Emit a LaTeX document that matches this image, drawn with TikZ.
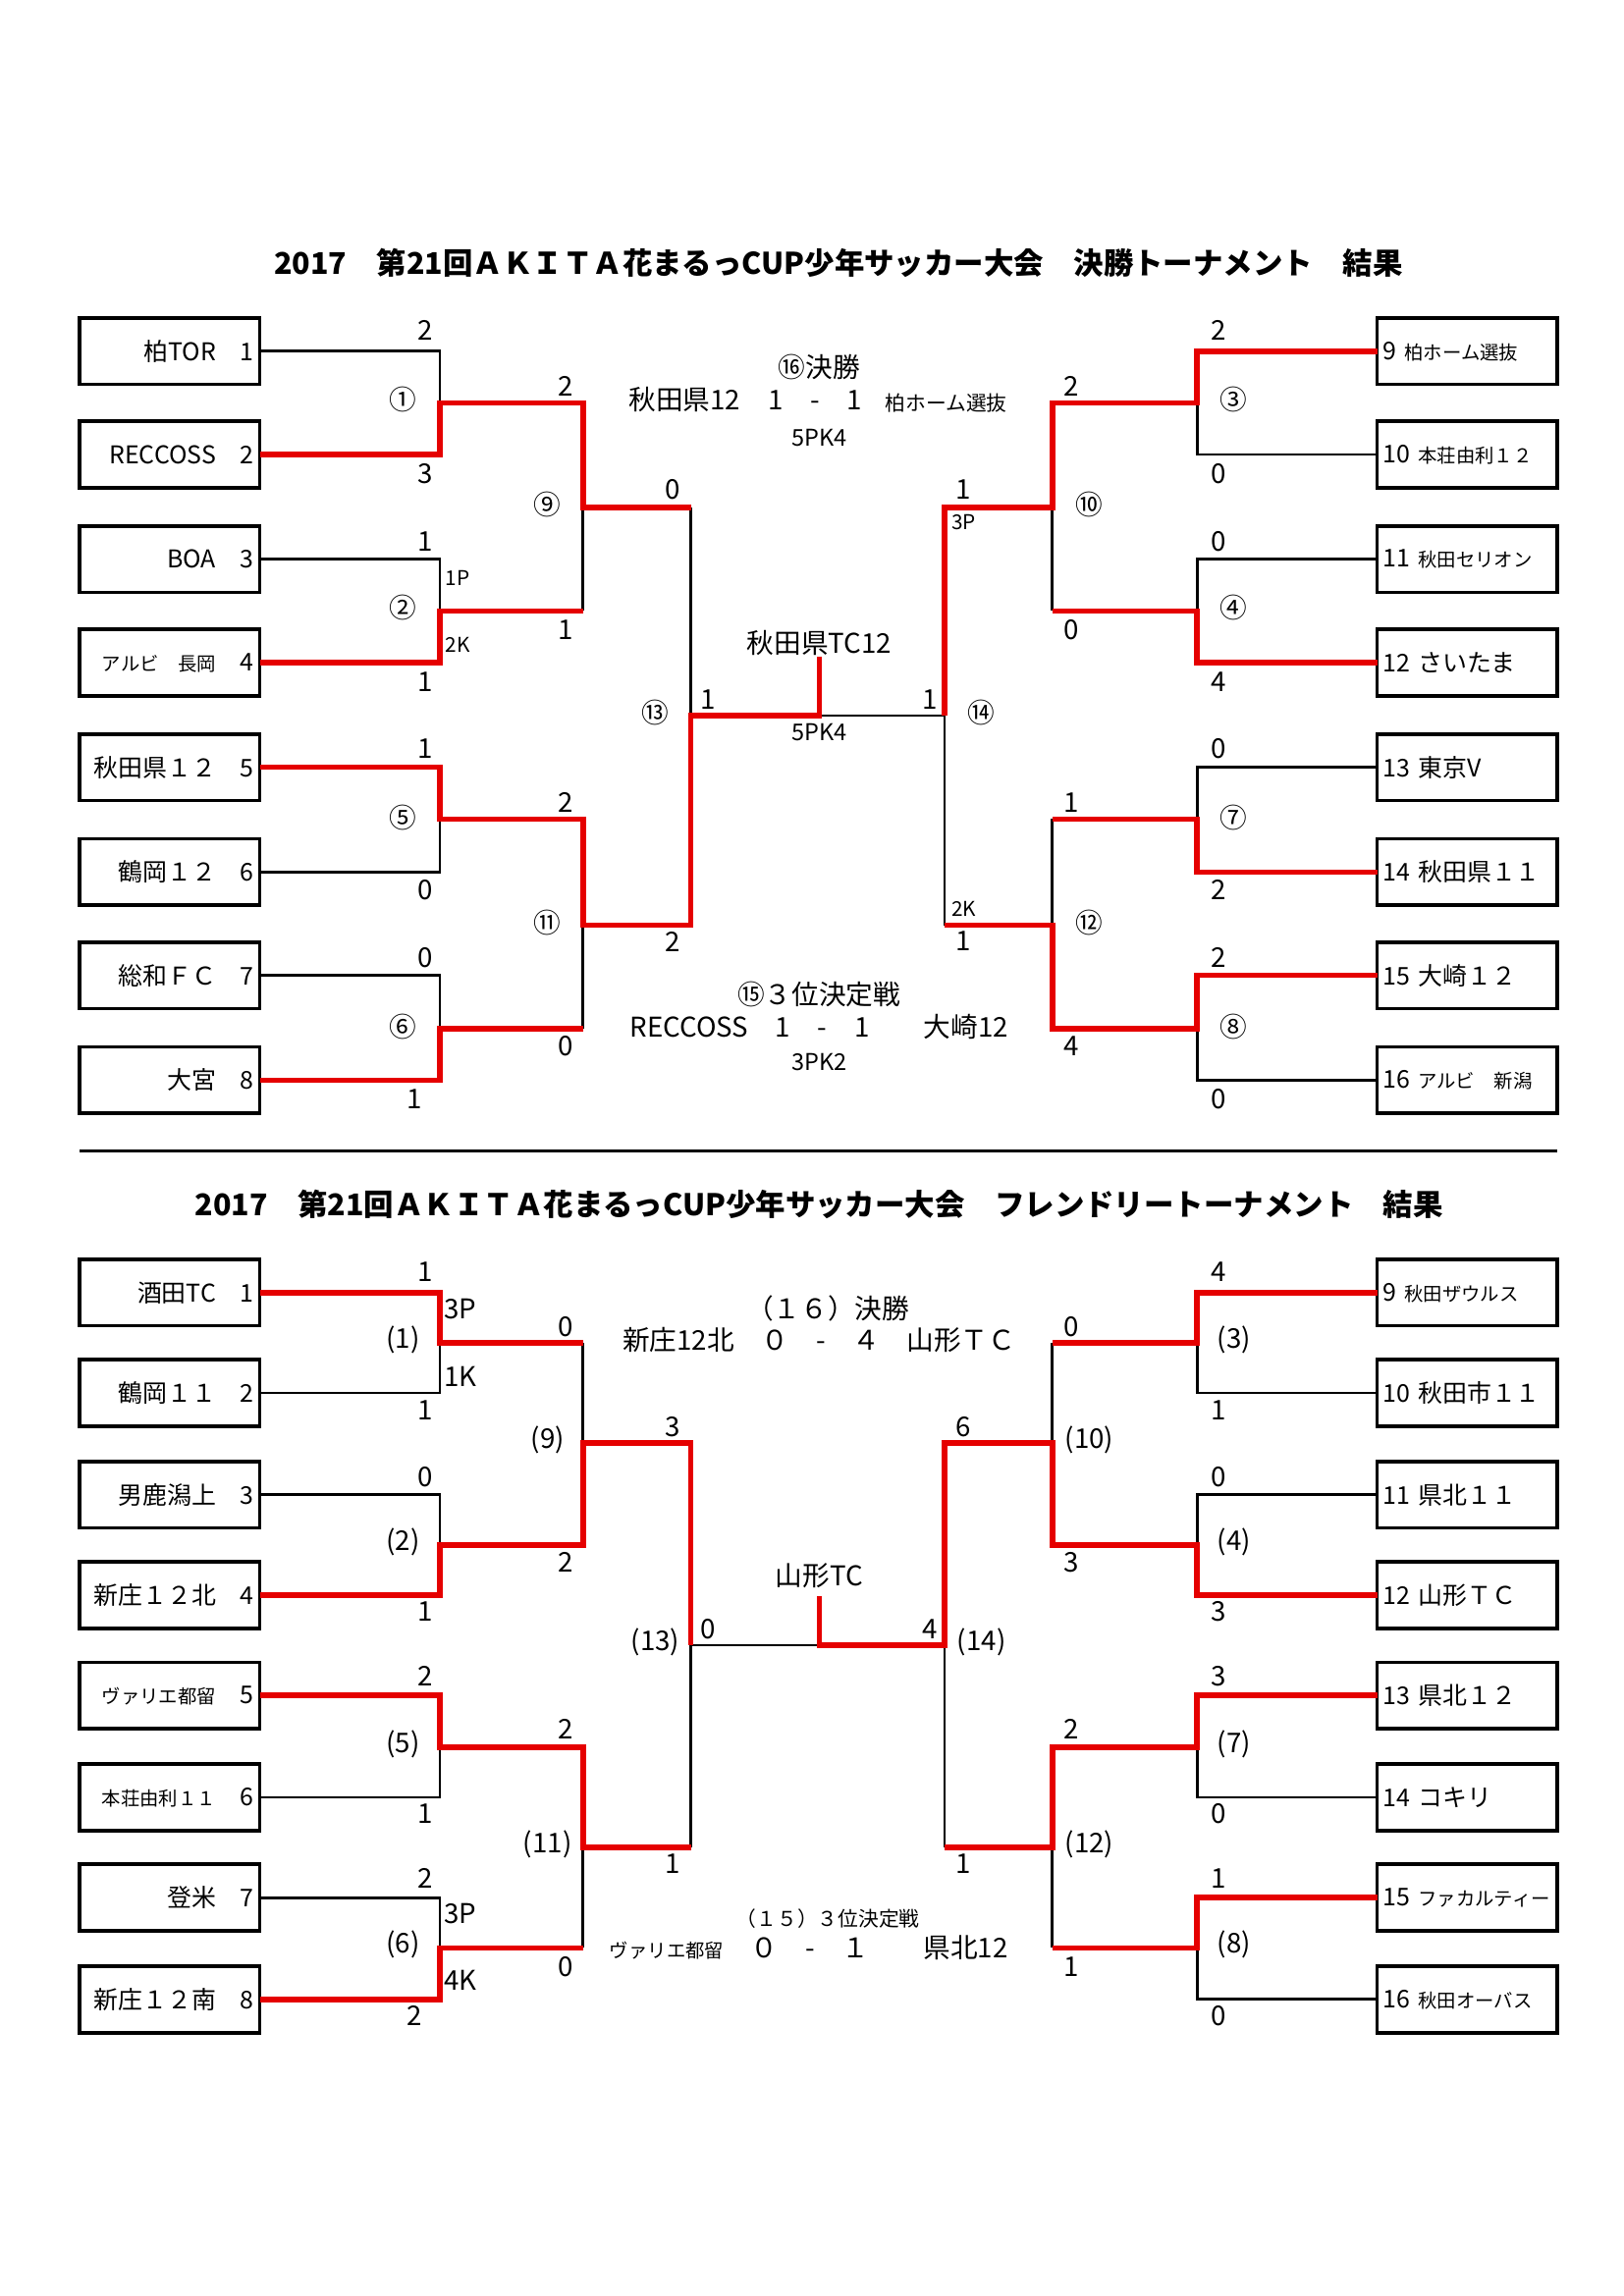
\documentclass[tikz,border=0pt]{standalone}
\usepackage{fontspec}
\setmainfont{Noto Sans CJK JP}
\begin{document}
\begin{tikzpicture}[x=0.1909mm,y=-0.1909mm,
 bk/.style={line width=1pt,black},
 rd/.style={line width=2pt,red!90!black,line join=miter},
 lbox/.style={draw,line width=1.3pt,minimum width=23.3mm,minimum height=8.6mm,inner sep=0.6mm,outer sep=0pt,text width=21.8mm,align=right,font=\fontsize{9}{11}\selectfont},
 rbox/.style={draw,line width=1.3pt,minimum width=23.3mm,minimum height=8.6mm,inner sep=0.6mm,outer sep=0pt,text width=21.8mm,align=left,font=\fontsize{9}{11}\selectfont},
 sm/.style={font=\fontsize{7.5}{9}\selectfont},
 lb/.style={font=\fontsize{10}{12}\selectfont,inner sep=0pt},
 tl/.style={font=\fontsize{7.5}{9}\selectfont,inner sep=0pt}]
\useasboundingbox (0,0) rectangle (1100,1556);
\fill[white] (0,0) rectangle (1100,1556);
\newcommand\sz[1]{{\fontsize{7}{8}\selectfont #1}}
% titles
\node[font=\bfseries\fontsize{11}{13}\selectfont] (t1) at (568,178) {2017　第21回ＡＫＩＴＡ花まるっCUP少年サッカー大会　決勝トーナメント　結果};
\node[font=\bfseries\fontsize{11}{13}\selectfont] (t2) at (555,816) {2017　第21回ＡＫＩＴＡ花まるっCUP少年サッカー大会　フレンドリートーナメント　結果};
\draw[line width=0.8pt] (54,780) -- (1055,780);
% ---------- top boxes
\foreach \y/\t [count=\i] in {238/柏TOR　1,308/RECCOSS　2,379/BOA　3,449/{\sz{アルビ　長岡}　4},520/秋田県１２　5,591/鶴岡１２　6,661/総和ＦＣ　7,732/大宮　8}
 \node[lbox] (L\i) at (115,\y) {\t};
\foreach \y/\t [count=\i] in {238/{9 \sz{柏ホーム選抜}},308/{10 \sz{本荘由利１２}},379/{11 \sz{秋田セリオン}},449/12 さいたま,520/13 東京V,591/14 秋田県１１,661/15 大崎１２,732/{16 \sz{アルビ　新潟}}}
 \node[rbox] (R\i) at (994,\y) {\t};
% top black brackets
\foreach \a/\b/\m in {238/308/273,379/449/414,520/591/555,661/732/697}{
 \draw[bk] (176,\a)--(298,\a)--(298,\b)--(176,\b); \draw[bk] (298,\m)--(395,\m);
 \draw[bk] (933,\a)--(811,\a)--(811,\b)--(933,\b); \draw[bk] (811,\m)--(713,\m);}
\draw[bk] (395,273)--(395,414) (395,344)--(468,344) (395,555)--(395,697) (395,627)--(468,627) (468,344)--(468,627) (468,485)--(640,485);
\draw[bk] (713,273)--(713,414) (713,344)--(640,344) (713,555)--(713,697) (713,627)--(640,627) (640,344)--(640,627);
% top red
\draw[rd] (176,308)--(298,308)--(298,273)--(395,273)--(395,344)--(468,344);
\draw[rd] (176,449)--(298,449)--(298,414)--(395,414);
\draw[rd] (176,520)--(298,520)--(298,555)--(395,555)--(395,627)--(468,627)--(468,485)--(555,485)--(555,445);
\draw[rd] (176,732)--(298,732)--(298,697)--(395,697);
\draw[rd] (933,238)--(811,238)--(811,273)--(713,273)--(713,344)--(640,344)--(640,485);
\draw[rd] (933,449)--(811,449)--(811,414)--(713,414);
\draw[rd] (933,591)--(811,591)--(811,555)--(713,555);
\draw[rd] (933,661)--(811,661)--(811,697)--(713,697)--(713,627)--(640,627);
% top labels
\foreach \x/\y/\t in {288/224/2,288/321/3,288/367/1,288/462/1,288/507/1,288/603/0,288/649/0,281/745/1,
 273/271/①,273/412/②,273/554/⑤,273/696/⑥,383/262/2,383/427/1,383/544/2,383/709/0,371/342/⑨,371/625/⑪,
 456/332/0,456/638/2,444/483/⑬,480/474/1,
 826/224/2,826/321/0,826/367/0,826/462/4,826/507/0,826/603/2,826/649/2,826/745/0,
 836/271/③,836/412/④,836/554/⑦,836/696/⑧,726/262/2,726/427/0,726/544/1,726/709/4,738/342/⑩,738/625/⑫,
 653/332/1,653/638/1,665/483/⑭,630/474/1}
 \node[lb] at (\x,\y) {\t};
\foreach \x/\y/\t in {310/392/1P,310/437/2K,653/354/3P,653/616/2K}
 \node[tl] at (\x,\y) {\t};
\node[lb] (c1) at (555,249) {⑯決勝};
\node[lb] (c2) at (505,271) {秋田県12　1　-　1};
\node[sm] (c2b) at (641,273) {柏ホーム選抜};
\node[lb,font=\fontsize{8.5}{10}\selectfont] (c3) at (555,297) {5PK4};
\node[lb] (c4) at (555,436) {秋田県TC12};
\node[lb,font=\fontsize{8.5}{10}\selectfont] (c5) at (555,496) {5PK4};
\node[lb] (c6) at (555,674) {⑮３位決定戦};
\node[lb] (c7) at (555,696) {RECCOSS　1　-　1　　大崎12};
\node[lb,font=\fontsize{8.5}{10}\selectfont] (c8) at (555,720) {3PK2};
% ---------- bottom boxes
\foreach \y/\t [count=\i] in {876/酒田TC　1,944/鶴岡１１　2,1013/男鹿潟上　3,1081/新庄１２北　4,1149/{\sz{ヴァリエ都留}　5},1218/{\sz{本荘由利１１}　6},1286/登米　7,1355/新庄１２南　8}
 \node[lbox] (BL\i) at (115,\y) {\t};
\foreach \y/\t [count=\i] in {876/{9 \sz{秋田ザウルス}},944/10 秋田市１１,1013/11 県北１１,1081/12 山形ＴＣ,1149/13 県北１２,1218/14 コキリ,1286/{15 \sz{ファカルティー}},1355/{16 \sz{秋田オーバス}}}
 \node[rbox] (BR\i) at (994,\y) {\t};
\foreach \a/\b/\m in {876/944/910,1013/1081/1047,1149/1218/1184,1286/1355/1320}{
 \draw[bk] (176,\a)--(298,\a)--(298,\b)--(176,\b); \draw[bk] (298,\m)--(395,\m);
 \draw[bk] (933,\a)--(811,\a)--(811,\b)--(933,\b); \draw[bk] (811,\m)--(713,\m);}
\draw[bk] (395,910)--(395,1047) (395,978)--(468,978) (395,1184)--(395,1320) (395,1252)--(468,1252) (468,978)--(468,1252) (468,1115)--(640,1115);
\draw[bk] (713,910)--(713,1047) (713,978)--(640,978) (713,1184)--(713,1320) (713,1252)--(640,1252) (640,978)--(640,1252);
\draw[rd] (176,876)--(298,876)--(298,910)--(395,910);
\draw[rd] (176,1081)--(298,1081)--(298,1047)--(395,1047)--(395,978)--(468,978)--(468,1115);
\draw[rd] (176,1149)--(298,1149)--(298,1184)--(395,1184)--(395,1252)--(468,1252);
\draw[rd] (176,1355)--(298,1355)--(298,1320)--(395,1320);
\draw[rd] (933,876)--(811,876)--(811,910)--(713,910);
\draw[rd] (933,1081)--(811,1081)--(811,1047)--(713,1047)--(713,978)--(640,978)--(640,1115)--(555,1115)--(555,1082);
\draw[rd] (933,1149)--(811,1149)--(811,1184)--(713,1184)--(713,1252)--(640,1252);
\draw[rd] (933,1286)--(811,1286)--(811,1320)--(713,1320);
\foreach \x/\y/\t in {288/862/1,288/956/1,288/1001/0,288/1092/1,288/1136/2,288/1229/1,288/1273/2,281/1366/2,
 273/908/(1),273/1045/(2),273/1182/(5),273/1318/(6),383/899/0,383/1059/2,383/1172/2,383/1333/0,371/976/(9),371/1250/(11),
 456/967/3,456/1263/1,444/1113/(13),480/1104/0,
 826/862/4,826/956/1,826/1001/0,826/1092/3,826/1136/3,826/1229/0,826/1273/1,826/1366/0,
 836/908/(3),836/1045/(4),836/1182/(7),836/1318/(8),726/899/0,726/1059/3,726/1172/2,726/1333/1,738/976/(10),738/1250/(12),
 653/967/6,653/1263/1,665/1113/(14),630/1104/4,312/887/3P,312/933/1K,312/1297/3P,312/1342/4K}
 \node[lb] at (\x,\y) {\t};
\node[lb] (d1) at (561,887) {（１６）決勝};
\node[lb] (d2) at (555,908) {新庄12北　０　-　４　山形ＴＣ};
\node[lb] (d3) at (555,1068) {山形TC};
\node[sm] (d4) at (561,1300) {（１５）３位決定戦};
\node[lb] (d5) at (548,1320) {\sz{ヴァリエ都留}　０　-　１　　県北12};
\end{tikzpicture}
\end{document}
